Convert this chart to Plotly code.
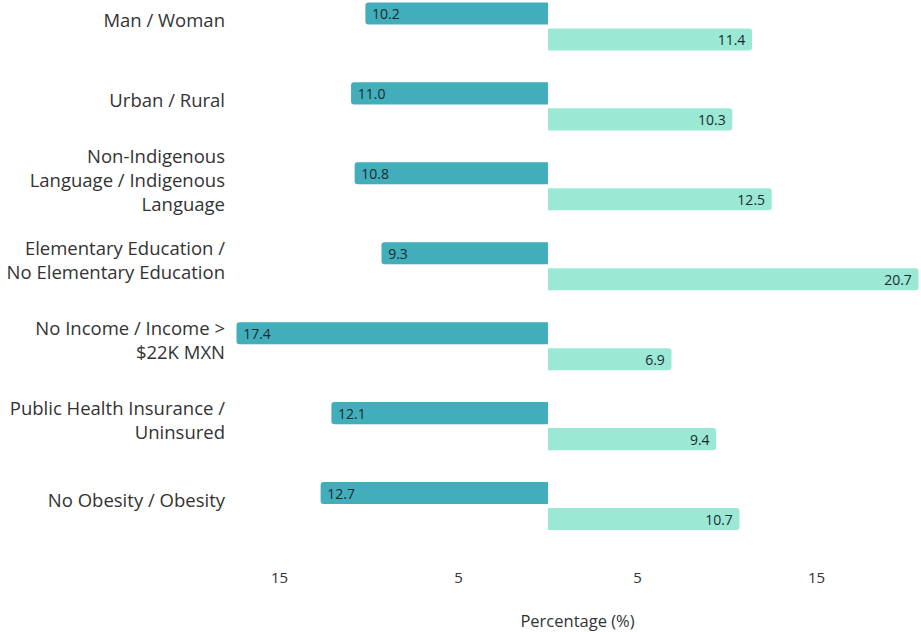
import plotly.graph_objects as go

categories = [
    "Man / Woman",
    "Urban / Rural",
    "Non-Indigenous<br>Language / Indigenous<br>Language",
    "Elementary Education /<br>No Elementary Education",
    "No Income / Income ><br>$22K MXN",
    "Public Health Insurance /<br>Uninsured",
    "No Obesity / Obesity",
]
first_group = [10.2, 11.0, 10.8, 9.3, 17.4, 12.1, 12.7]
second_group = [11.4, 10.3, 12.5, 20.7, 6.9, 9.4, 10.7]
tick_vals = [-15, -5, 5, 15]
tick_text = ["15", "5", "5", "15"]

FONT = "Open Sans"
DARK = "#42adbb"
LIGHT = "#9be8d5"
TXT = "#1a2b30"
NBSP = "\u00a0"

fig = go.Figure()
fig.add_trace(go.Bar(
    y=categories, x=[-v for v in first_group], orientation="h",
    marker=dict(color=DARK, cornerradius=3, line=dict(width=0)),
    text=[f"{NBSP}{v:.1f}" for v in first_group], textposition="inside",
    insidetextanchor="end", textangle=0, constraintext="none",
    insidetextfont=dict(family=FONT, size=14, color=TXT),
    showlegend=False, hoverinfo="skip",
))
fig.add_trace(go.Bar(
    y=categories, x=second_group, orientation="h",
    marker=dict(color=LIGHT, cornerradius=3, line=dict(width=0)),
    text=[f"{v:.1f}{NBSP}" for v in second_group], textposition="inside",
    insidetextanchor="end", textangle=0, constraintext="none",
    insidetextfont=dict(family=FONT, size=14, color=TXT),
    showlegend=False, hoverinfo="skip",
))

fig.update_layout(
    width=921, height=632,
    margin=dict(l=234, r=0, t=0, b=72),
    paper_bgcolor="white", plot_bgcolor="white",
    barmode="group", bargap=0.35, bargroupgap=0.15,
    font=dict(family=FONT, color="#333333"),
    xaxis=dict(
        range=[-17.54, 20.84], tickvals=tick_vals, ticktext=tick_text,
        showgrid=False, zeroline=False, showline=False,
        ticks="outside", ticklen=4, tickcolor="rgba(0,0,0,0)",
        tickfont=dict(family=FONT, size=15, color="#333333"),
        title=dict(text="Percentage (%)", font=dict(family=FONT, size=16.5, color="#333333"), standoff=30),
    ),
    yaxis=dict(
        range=[6.675, -0.331], showgrid=False, zeroline=False, showline=False,
        ticks="", ticklabelstandoff=8, ticklabelshift=6,
        tickfont=dict(family=FONT, size=18.5, color="#333333"),
    ),
)

fig.write_html("out.html", config={"displayModeBar": False},
               post_script="document.body.style.margin='0px';")
